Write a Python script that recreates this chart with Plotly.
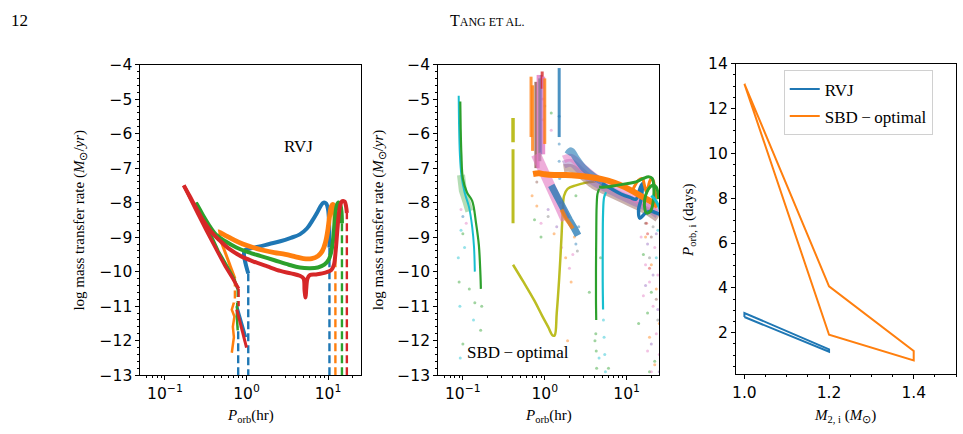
import plotly.graph_objects as go
import math

# ---------------- colours (tab10) ----------------
BLUE, ORANGE, GREEN, RED = "#1f77b4", "#ff7f0e", "#2ca02c", "#d62728"
PURPLE, BROWN, PINK, GRAY = "#9467bd", "#8c564b", "#e377c2", "#7f7f7f"
OLIVE, CYAN = "#bcbd22", "#17becf"

# ---------------- RVJ panel (P_orb in hr, log Mdot) ----------------
rvj_blue_on_P = [10.4, 10.4]
rvj_blue_on_y = [-13.0, -9.3]
rvj_blue_P = [10.4, 10.3, 10.0, 9.5, 8.8, 8.1, 7.3, 6.5, 5.5, 4.5, 3.5, 2.6, 1.9, 1.4, 1.1, 0.95, 0.93, 0.97, 1.02, 1.05]
rvj_blue_y = [-9.3, -8.6, -8.2, -8.03, -8.0, -8.1, -8.3, -8.5, -8.75, -8.92, -9.02, -9.12, -9.2, -9.28, -9.33, -9.38, -9.5, -9.75, -9.95, -10.05]
rvj_blue_off_P = [1.05, 1.05]
rvj_blue_off_y = [-10.05, -13.0]
rvj_blue2_on_P = [0.79, 0.79]
rvj_blue2_on_y = [-13.0, -11.6]
rvj_blue2_P = [0.76, 0.82, 0.9, 0.98]
rvj_blue2_y = [-11.0, -11.3, -11.6, -11.9]

rvj_orange_on_P = [12.3, 12.3]
rvj_orange_on_y = [-13.0, -8.9]
rvj_orange_P = [12.3, 12.1, 11.8, 11.4, 11.0, 10.5, 10.0, 9.3, 8.5, 7.5, 6.3, 5.0, 4.0, 3.0, 2.2, 1.6, 1.2, 0.9, 0.7, 0.58, 0.5, 0.46, 0.45]
rvj_orange_y = [-8.9, -8.4, -8.1, -8.05, -8.1, -8.35, -8.75, -9.15, -9.4, -9.55, -9.62, -9.62, -9.57, -9.5, -9.45, -9.38, -9.3, -9.2, -9.08, -8.98, -8.9, -8.85, -8.85]
rvj_orange2_P = [0.45, 0.5, 0.55, 0.62, 0.68, 0.72]
rvj_orange2_y = [-8.9, -9.2, -9.45, -9.8, -10.05, -10.2]
rvj_orange_off_P = [0.72, 0.72]
rvj_orange_off_y = [-10.2, -10.9]
rvj_orange3_P = [0.7, 0.66, 0.71, 0.68, 0.7, 0.66]
rvj_orange3_y = [-10.9, -11.1, -11.3, -11.6, -11.9, -12.35]

rvj_green_on_P = [14.8, 14.8]
rvj_green_on_y = [-13.0, -8.6]
rvj_green_P = [14.8, 14.6, 14.2, 13.6, 13.1, 12.6, 12.1, 11.6, 11.0, 10.2, 9.0, 7.5, 6.0, 4.5, 3.3, 2.2, 1.5, 1.0, 0.75, 0.55, 0.42, 0.34, 0.29, 0.26, 0.24]
rvj_green_y = [-8.6, -8.25, -8.08, -8.0, -8.02, -8.15, -8.5, -9.0, -9.4, -9.65, -9.8, -9.88, -9.9, -9.88, -9.8, -9.67, -9.55, -9.42, -9.3, -9.12, -8.92, -8.62, -8.35, -8.15, -8.0]
rvj_green2_P = [0.24, 0.28, 0.35, 0.45, 0.58, 0.7, 0.78]
rvj_green2_y = [-8.0, -8.35, -8.85, -9.4, -9.85, -10.2, -10.5]
rvj_green_off_P = [0.78, 0.78]
rvj_green_off_y = [-10.5, -10.9]
rvj_green3_P = [0.77, 0.76, 0.78]
rvj_green3_y = [-10.9, -11.3, -11.7]

rvj_red_on_P = [17.0, 17.0]
rvj_red_on_y = [-13.0, -8.3]
rvj_red_P = [17.0, 16.6, 16.0, 15.3, 14.8, 14.2, 13.6, 13.0, 12.4, 11.8, 11.0, 10.0, 8.5, 7.0, 6.0, 5.6, 5.4, 5.3, 5.15, 5.0, 4.5, 3.5, 2.6, 1.8, 1.2, 0.85, 0.62, 0.47, 0.37, 0.29, 0.24, 0.2, 0.17]
rvj_red_y = [-8.3, -8.1, -7.97, -7.95, -7.96, -8.05, -8.3, -8.8, -9.4, -9.8, -9.95, -10.0, -10.05, -10.08, -10.1, -10.2, -10.5, -10.75, -10.55, -10.2, -10.12, -10.05, -9.98, -9.85, -9.7, -9.55, -9.35, -9.1, -8.85, -8.5, -8.15, -7.8, -7.5]
rvj_red2_P = [0.17, 0.2, 0.25, 0.32, 0.42, 0.55, 0.68, 0.8]
rvj_red2_y = [-7.5, -7.85, -8.3, -8.8, -9.35, -9.85, -10.2, -10.5]
rvj_red_off_P = [0.8, 0.8]
rvj_red_off_y = [-10.5, -11.0]
rvj_red3_P = [0.76, 0.83, 0.9, 0.97, 1.0]
rvj_red3_y = [-11.1, -11.45, -11.75, -12.05, -12.2]

# ---------------- SBD-optimal panel ----------------
sbd_cyan_P = [0.089, 0.09, 0.092, 0.096, 0.105, 0.119, 0.13, 0.137, 0.14]
sbd_cyan_y = [-4.9, -5.8, -6.6, -7.2, -7.7, -8.13, -8.7, -9.3, -10.0]
sbd_green_P = [0.093, 0.094, 0.096, 0.1, 0.112, 0.13, 0.145, 0.157, 0.164, 0.166]
sbd_green_y = [-5.07, -5.8, -6.6, -7.3, -7.7, -7.95, -8.6, -9.24, -10.1, -10.5]
sbd_cloud_P = [0.095, 0.1, 0.11, 0.12]
sbd_cloud_y = [-7.2, -7.65, -7.95, -8.25]

sbd_olive_a_P = [0.41, 0.41]
sbd_olive_a_y = [-5.55, -6.25]
sbd_olive_b_P = [0.41, 0.41]
sbd_olive_b_y = [-6.45, -8.6]
sbd_olive_P = [0.41, 0.55, 0.75, 0.93, 1.1, 1.25, 1.32, 1.4, 1.5, 1.6, 1.66, 1.72, 1.9, 2.4, 3.2, 4.2]
sbd_olive_y = [-9.8, -10.3, -10.85, -11.28, -11.6, -11.85, -11.85, -11.2, -10.2, -9.0, -8.2, -7.8, -7.6, -7.5, -7.42, -7.38]

stripe_P = [0.68, 0.71, 0.78, 0.83, 0.87, 0.9, 0.93, 0.97, 1.0, 1.5]
stripe_top = [-4.35, -4.6, -4.5, -4.3, -4.4, -4.3, -4.2, -4.35, -4.4, -4.1]
stripe_bot = [-6.1, -6.5, -7.0, -7.0, -6.8, -6.6, -4.7, -6.6, -6.3, -6.1]
stripe_col = [ORANGE, ORANGE, BROWN, PINK, GRAY, PURPLE, RED, PINK, ORANGE, BLUE]

sbd_diag_pink_P = [0.78, 0.9, 1.05, 1.25, 1.45, 1.65, 1.8]
sbd_diag_pink_y = [-6.6, -6.9, -7.3, -7.7, -8.0, -8.3, -8.5]
sbd_diag_blue_P = [1.2, 1.45, 1.7, 2.0, 2.3, 2.55]
sbd_diag_blue_y = [-7.5, -7.9, -8.2, -8.5, -8.75, -8.95]
sbd_diag_orange_P = [1.6, 1.8, 2.0, 2.2]
sbd_diag_orange_y = [-8.2, -8.45, -8.6, -8.75]

sbd_orange_P = [0.72, 0.85, 1.0, 1.3, 1.8, 2.5, 3.5, 5.0, 7.0, 9.5, 12.5, 16, 20, 24]
sbd_orange_y = [-7.17, -7.15, -7.18, -7.2, -7.2, -7.22, -7.26, -7.32, -7.42, -7.55, -7.7, -7.85, -7.97, -8.1]

sbd_band_P = [1.7, 2.1, 2.8, 4, 6, 9, 13, 18, 24]
sbd_band_pink_y = [-6.75, -6.7, -6.95, -7.25, -7.5, -7.7, -7.9, -8.05, -8.25]
sbd_band_purple_y = [-6.9, -6.85, -7.1, -7.4, -7.62, -7.82, -8.0, -8.15, -8.35]
sbd_band_brown_y = [-7.0, -7.0, -7.2, -7.5, -7.7, -7.9, -8.08, -8.25, -8.45]
sbd_blue_hump_P = [1.9, 2.1, 2.4, 3, 4, 5.5]
sbd_blue_hump_y = [-6.6, -6.5, -6.7, -7.0, -7.25, -7.45]

sbd_blue_P = [5.0, 6.5, 8.5, 11, 13, 14.5, 15.5, 15, 14, 14.5, 17, 20, 23, 26]
sbd_blue_y = [-7.45, -7.6, -7.75, -7.85, -7.9, -7.6, -7.45, -7.9, -8.2, -8.45, -8.3, -8.25, -8.3, -8.35]
sbd_gloop_P = [4.6, 5.5, 7.5, 10, 13, 16, 18.5, 20.5, 21.5, 21, 19.5, 17.5, 16.5, 17, 18.5, 21, 23, 24.5]
sbd_gloop_y = [-7.55, -7.55, -7.5, -7.45, -7.4, -7.3, -7.25, -7.3, -7.6, -8.0, -8.25, -8.3, -8.1, -7.8, -7.6, -7.5, -7.55, -7.9]
sbd_oloop_P = [12, 14, 15.5, 16.5, 17.5, 19, 20, 21, 22, 23]
sbd_oloop_y = [-7.6, -7.35, -7.3, -7.5, -7.7, -7.4, -7.3, -7.35, -7.6, -7.9]
sbd_cend_P = [20, 22, 24, 25.5, 26]
sbd_cend_y = [-7.8, -7.9, -8.05, -8.2, -8.3]
sbd_gvert_P = [4.6, 4.4, 4.3, 4.25, 4.22, 4.22, 4.25]
sbd_gvert_y = [-7.6, -7.75, -8.1, -9.0, -10.0, -10.8, -11.4]
sbd_cvert_P = [5.6, 5.3, 5.15, 5.1, 5.1, 5.15]
sbd_cvert_y = [-7.7, -7.85, -8.3, -9.3, -10.3, -11.1]

dots_green_P = [0.09, 0.1, 0.12, 0.14, 0.17, 0.165, 0.1, 0.75, 0.9, 4.2, 4.25, 4.3, 4.1, 4.8, 6.0, 16, 18, 20, 22, 19, 14, 1.2, 2.4, 3.5]
dots_green_y = [-10.3, -8.9, -10.5, -10.9, -11.0, -11.7, -12.1, -8.5, -9.0, -11.8, -12.3, -12.8, -12.0, -9.6, -12.8, -9.5, -11.2, -10.6, -12.6, -12.9, -11.5, -5.4, -7.8, -10.6]
dots_cyan_P = [0.088, 0.092, 0.093, 0.105, 0.135, 0.095, 5.2, 5.3, 5.4, 5.5, 4.6, 24, 23]
dots_cyan_y = [-9.6, -11.0, -12.5, -9.3, -11.4, -8.8, -11.4, -11.9, -12.4, -12.9, -12.5, -8.8, -9.6]
dots_pink_P = [0.11, 0.095, 0.9, 1.6, 2.0, 2.2, 1.2, 15, 17, 19, 21, 23, 25, 18, 22, 24, 20, 16]
dots_pink_y = [-8.6, -8.2, -8.6, -9.3, -9.9, -9.5, -5.9, -9.0, -9.8, -10.3, -11.0, -11.8, -12.4, -12.3, -9.3, -10.1, -12.9, -10.7]
dots_orange_P = [0.8, 1.3, 1.8, 2.1, 1.9, 0.95, 2.3, 17, 20, 23, 25, 19, 22, 26, 0.7]
dots_orange_y = [-8.1, -8.9, -9.6, -10.3, -12.0, -5.6, -9.0, -9.0, -9.8, -10.5, -11.5, -11.9, -12.7, -9.4, -7.8]
dots_purple_P = [1.1, 1.4, 18, 21, 24, 17, 20, 25, 23]
dots_purple_y = [-8.2, -8.7, -9.2, -10.1, -11.1, -10.4, -12.1, -12.9, -8.9]
dots_gray_P = [1.1, 1.0, 2.5, 19, 24, 21]
dots_gray_y = [-8.4, -5.2, -9.4, -9.6, -11.4, -8.7]
dots_blue_P = [1.5, 1.5, 1.52, 1.5, 2.4, 0.1, 1.55, 2.6]
dots_blue_y = [-6.3, -6.8, -7.3, -5.5, -9.2, -8.4, -8.0, -8.7]
dots_red_P = [18, 19, 17.5, 0.95]
dots_red_y = [-8.9, -9.9, -8.6, -5.0]
dots_brown_P = [17, 20, 23, 0.8]
dots_brown_y = [-8.6, -9.0, -10.8, -7.4]

# ---------------- right panel ----------------
rvj_M2 = [1.0, 1.2, 1.2, 1.0, 1.0]
rvj_Pi = [2.7, 1.15, 1.26, 2.88, 2.7]
sbd_M2 = [1.0, 1.2, 1.4, 1.4, 1.2, 1.0]
sbd_Pi = [13.1, 4.07, 1.19, 0.76, 1.91, 13.1]

log_ticks = [0.1, 1, 10]
log_ticktext = ["10<sup>\u22121</sup>", "10<sup>0</sup>", "10<sup>1</sup>"]
log_minor = [0.06, 0.07, 0.08, 0.09, 0.2, 0.3, 0.4, 0.5, 0.6, 0.7, 0.8, 0.9,
             2, 3, 4, 5, 6, 7, 8, 9, 20]
mdot_ticks = list(range(-13, -3))
right_xticks = [1.0, 1.2, 1.4]
right_yticks = [2, 4, 6, 8, 10, 12, 14]

fig = go.Figure()


def line(ax, P, y, color, width=3.2, dash=None, opacity=1.0, shape="linear"):
    fig.add_trace(go.Scatter(
        x=P, y=y, mode="lines", xaxis="x" + ax, yaxis="y" + ax,
        line=dict(color=color, width=width, dash=dash, shape=shape),
        opacity=opacity, showlegend=False, hoverinfo="skip"))


def dots(P, y, color):
    fig.add_trace(go.Scatter(
        x=P, y=y, mode="markers", xaxis="x2", yaxis="y2",
        marker=dict(color=color, size=3, opacity=0.45, line=dict(width=0)),
        showlegend=False, hoverinfo="skip"))


DASH = "8px,4px"
# ---- left panel
ax = ""
line(ax, rvj_blue_on_P, rvj_blue_on_y, BLUE, 2.4, DASH)
line(ax, rvj_blue_off_P, rvj_blue_off_y, BLUE, 2.4, DASH)
line(ax, rvj_blue2_on_P, rvj_blue2_on_y, BLUE, 2.4, DASH)
line(ax, rvj_blue_P, rvj_blue_y, BLUE, 4, shape="spline")
line(ax, rvj_blue2_P, rvj_blue2_y, BLUE, 3)
line(ax, rvj_orange_on_P, rvj_orange_on_y, ORANGE, 2.4, DASH)
line(ax, rvj_orange_off_P, rvj_orange_off_y, ORANGE, 2.4, DASH)
line(ax, rvj_orange_P, rvj_orange_y, ORANGE, 4.8, shape="spline")
line(ax, rvj_orange2_P, rvj_orange2_y, ORANGE, 3)
line(ax, rvj_orange3_P, rvj_orange3_y, ORANGE, 2.5)
line(ax, rvj_green_on_P, rvj_green_on_y, GREEN, 2.4, DASH)
line(ax, rvj_green_off_P, rvj_green_off_y, GREEN, 2.4, DASH)
line(ax, rvj_green_P, rvj_green_y, GREEN, 4, shape="spline")
line(ax, rvj_green2_P, rvj_green2_y, GREEN, 3)
line(ax, rvj_green3_P, rvj_green3_y, GREEN, 2.5)
line(ax, rvj_red_on_P, rvj_red_on_y, RED, 2.4, DASH)
line(ax, rvj_red_off_P, rvj_red_off_y, RED, 2.4, DASH)
line(ax, rvj_red_P, rvj_red_y, RED, 4, shape="spline")
line(ax, rvj_red2_P, rvj_red2_y, RED, 3.5)
line(ax, rvj_red3_P, rvj_red3_y, RED, 3)

# ---- middle panel
ax = "2"
for P, y, c in [(dots_green_P, dots_green_y, GREEN), (dots_cyan_P, dots_cyan_y, CYAN),
                (dots_pink_P, dots_pink_y, PINK), (dots_orange_P, dots_orange_y, ORANGE),
                (dots_purple_P, dots_purple_y, PURPLE), (dots_gray_P, dots_gray_y, GRAY),
                (dots_blue_P, dots_blue_y, BLUE), (dots_red_P, dots_red_y, RED),
                (dots_brown_P, dots_brown_y, BROWN)]:
    dots(P, y, c)
line(ax, sbd_cloud_P, sbd_cloud_y, GREEN, 8, opacity=0.35)
line(ax, sbd_cyan_P, sbd_cyan_y, CYAN, 2, shape="spline")
line(ax, sbd_green_P, sbd_green_y, GREEN, 2.2, shape="spline")
line(ax, sbd_olive_a_P, sbd_olive_a_y, OLIVE, 3.5)
line(ax, sbd_olive_b_P, sbd_olive_b_y, OLIVE, 3)
line(ax, sbd_olive_P, sbd_olive_y, OLIVE, 2.5, shape="spline")
for P, t, b, c in zip(stripe_P, stripe_top, stripe_bot, stripe_col):
    line(ax, [P, P], [t, b], c, 3, opacity=0.8)
line(ax, sbd_band_P, sbd_band_brown_y, BROWN, 8, opacity=0.45, shape="spline")
line(ax, sbd_band_P, sbd_band_purple_y, PURPLE, 8, opacity=0.45, shape="spline")
line(ax, sbd_band_P, sbd_band_pink_y, PINK, 8, opacity=0.55, shape="spline")
line(ax, sbd_blue_hump_P, sbd_blue_hump_y, BLUE, 7, opacity=0.6, shape="spline")
line(ax, sbd_diag_pink_P, sbd_diag_pink_y, PINK, 10, opacity=0.6)
line(ax, sbd_diag_blue_P, sbd_diag_blue_y, BLUE, 7, opacity=0.75)
line(ax, sbd_diag_orange_P, sbd_diag_orange_y, ORANGE, 4, opacity=0.8)
line(ax, sbd_blue_P, sbd_blue_y, BLUE, 3.5, shape="spline")
line(ax, sbd_orange_P, sbd_orange_y, ORANGE, 6, shape="spline")
line(ax, sbd_oloop_P, sbd_oloop_y, ORANGE, 3, shape="spline")
line(ax, sbd_gloop_P, sbd_gloop_y, GREEN, 3, shape="spline")
line(ax, sbd_cend_P, sbd_cend_y, CYAN, 3, shape="spline")
line(ax, sbd_gvert_P, sbd_gvert_y, GREEN, 2.2, shape="spline")
line(ax, sbd_cvert_P, sbd_cvert_y, CYAN, 2.2, shape="spline")

# ---- right panel
fig.add_trace(go.Scatter(x=rvj_M2, y=rvj_Pi, mode="lines", name="RVJ",
                         line=dict(color=BLUE, width=2), xaxis="x3", yaxis="y3",
                         legendgroup="a"))
fig.add_trace(go.Scatter(x=sbd_M2, y=sbd_Pi, mode="lines", name="SBD\u2009\u2212\u2009optimal",
                         line=dict(color=ORANGE, width=2), xaxis="x3", yaxis="y3",
                         legendgroup="b"))

TICKFONT = dict(family="DejaVu Sans", size=15.5, color="black")
common = dict(showline=True, linecolor="black", linewidth=1, mirror=True, showgrid=False,
              zeroline=False, ticks="outside", ticklen=4, tickcolor="black", tickwidth=1,
              tickfont=TICKFONT)
ydom = [1 - 382 / 434, 1 - 58 / 434]
xlog = dict(type="log", range=[math.log10(0.05), math.log10(25)], tickvals=log_ticks,
            ticktext=log_ticktext,
            minor=dict(tickvals=log_minor, ticks="outside", ticklen=2, tickcolor="black"),
            **common)
ylin = dict(range=[-13, -4], tickvals=mdot_ticks,
            ticktext=["\u2212%d" % abs(v) for v in mdot_ticks],
            minor=dict(dtick=0.2, ticks="outside", ticklen=2, tickcolor="black"), **common)

fig.update_layout(
    width=963, height=434, margin=dict(l=0, r=0, t=0, b=0),
    paper_bgcolor="white", plot_bgcolor="white",
    xaxis=dict(domain=[137 / 963, 358 / 963], anchor="y", **xlog),
    yaxis=dict(domain=ydom, anchor="x", **ylin),
    xaxis2=dict(domain=[436 / 963, 658 / 963], anchor="y2", **xlog),
    yaxis2=dict(domain=ydom, anchor="x2", **ylin),
    xaxis3=dict(domain=[735 / 963, 956 / 963], anchor="y3", range=[0.98, 1.5],
                tickvals=right_xticks, ticktext=["1.0", "1.2", "1.4"],
                minor=dict(dtick=0.05, ticks="outside", ticklen=2, tickcolor="black"), **common),
    yaxis3=dict(domain=[1 - 381 / 434, 1 - 57 / 434], anchor="x3", range=[0.15, 14],
                tickvals=right_yticks,
                minor=dict(dtick=0.5, tick0=0, ticks="outside", ticklen=2, tickcolor="black"), **common),
    legend=dict(x=783 / 963, y=1 - 64 / 434, xanchor="left", yanchor="top",
                bgcolor="white", bordercolor="#d0d0d0", borderwidth=1,
                font=dict(family="Liberation Serif", size=17, color="black"),
                tracegroupgap=2),
    showlegend=True,
)

SERIF = "Liberation Serif"
ann = []


def text(x, y, s, size=15, angle=0, xanchor="center"):
    ann.append(dict(x=x, y=y, xref="paper", yref="paper", text=s, showarrow=False,
                    textangle=angle, xanchor=xanchor, yanchor="middle",
                    font=dict(family=SERIF, size=size, color="black")))


text(5 / 963, 1 - 12 / 434, "12", 17, xanchor="left")
text(486 / 963, 1 - 12 / 434, "T<span style='font-size:12px'>ANG ET AL.</span>", 16)
ylab = "log mass transfer rate (<i>M</i><sub>\u2299</sub>/<i>yr</i>)"
text(76 / 963, 1 - 220 / 434, ylab, 15, angle=-90)
text(376 / 963, 1 - 220 / 434, ylab, 15, angle=-90)
text(248 / 963, 1 - 425 / 434, "<i>P</i><sub>orb</sub>(hr)", 15)
text(547 / 963, 1 - 425 / 434, "<i>P</i><sub>orb</sub>(hr)", 15)
text(688 / 963, 1 - 220 / 434, "<i>P</i><sub>orb, i</sub> (days)", 15, angle=-90)
text(845 / 963, 1 - 425 / 434, "<i>M</i><sub>2, i</sub> (<i>M</i><sub>\u2299</sub>)", 15)
text(296 / 963, 1 - 143 / 434, "RVJ", 17)
text(516 / 963, 1 - 358 / 434, "SBD\u2009\u2212\u2009optimal", 17)
fig.update_layout(annotations=ann)

fig.write_html("out.html")
